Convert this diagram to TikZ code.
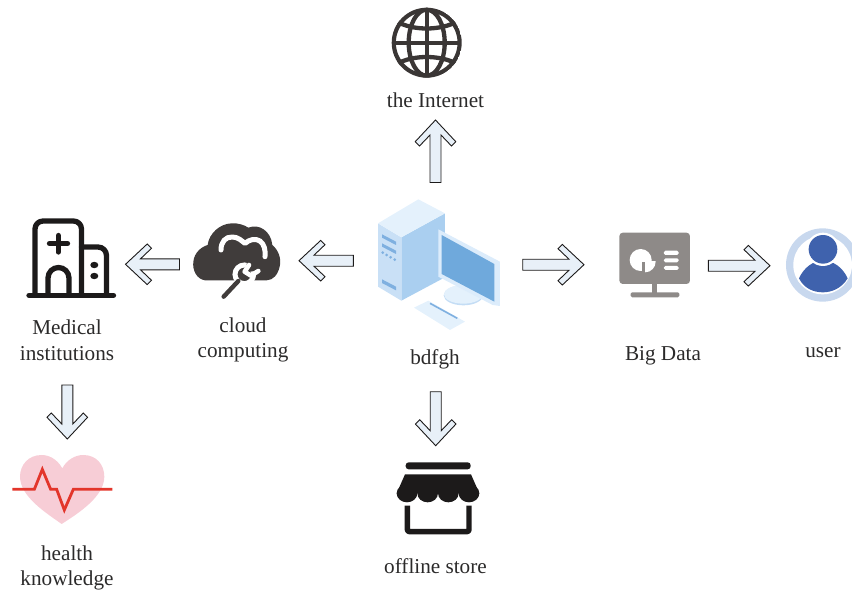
\documentclass[tikz,border=0pt]{standalone}
\usepackage{fontspec}
\setmainfont{Liberation Serif}
\usetikzlibrary{calc}
\definecolor{inkdark}{HTML}{3A3635}
\definecolor{inkblack}{HTML}{1C1A1A}
\definecolor{arrowfill}{HTML}{E8F0F8}
\definecolor{cloudgrey}{HTML}{403C3B}
\definecolor{screengrey}{HTML}{8E8A88}
\definecolor{pcfront}{HTML}{C9E0F6}
\definecolor{pcside}{HTML}{AACFF0}
\definecolor{pctop}{HTML}{E4F1FC}
\definecolor{pcframe}{HTML}{DCECFB}
\definecolor{pcscreen}{HTML}{6FA9DC}
\definecolor{pcbar}{HTML}{7FB0E0}
\definecolor{ringblue}{HTML}{C8D8EE}
\definecolor{userblue}{HTML}{3F62AD}
\definecolor{heartpink}{HTML}{F7CDD6}
\definecolor{pulsered}{HTML}{E3352B}
\definecolor{labeltext}{HTML}{2B2A2A}
\tikzset{
  blockarrow/.style={draw=inkblack,fill=arrowfill,line width=0.9pt,line join=miter},
  label text/.style={text=labeltext,align=center,inner sep=0pt,font=\fontsize{21.2}{25.5}\selectfont},
  globe line/.style={draw=inkdark,line width=4.3pt},
  hospital line/.style={draw=inkblack,line width=5.3pt,line cap=round,line join=round},
}
% block arrow with chevron head: from tail #1 to tip #2
\newcommand{\blockarrowdraw}[2]{%
  \draw[blockarrow]
    ($(#2)!0pt!(#1)$)
    -- ($(#2)!21.7pt!(#1)!20.3pt!90:(#2)$)
    -- ($(#2)!26pt!(#1)!16pt!90:(#2)$)
    -- ($(#2)!15pt!(#1)!5.5pt!90:(#2)$)
    -- ($(#1)!5.5pt!90:(#2)$)
    -- ($(#1)!5.5pt!-90:(#2)$)
    -- ($(#2)!15pt!(#1)!5.5pt!-90:(#2)$)
    -- ($(#2)!26pt!(#1)!16pt!-90:(#2)$)
    -- ($(#2)!21.7pt!(#1)!20.3pt!-90:(#2)$)
    -- cycle;}
\begin{document}
\begin{tikzpicture}[x=1pt,y=-1pt]
\useasboundingbox (0,0) rectangle (852,592);

% end points of the arrows
\coordinate (upTail) at (435.5,182.5);   \coordinate (upTip) at (435.5,120);
\coordinate (cloudTail) at (179.5,264.3);\coordinate (cloudTip) at (125.5,264.3);
\coordinate (pcTail) at (353.3,260.7);   \coordinate (pcTip) at (299,260.7);
\coordinate (dataTail) at (522.7,264.7); \coordinate (dataTip) at (584,264.7);
\coordinate (userTail) at (708.3,265.7); \coordinate (userTip) at (770,265.7);
\coordinate (healthTail) at (67.3,385);  \coordinate (healthTip) at (67.3,439);
\coordinate (storeTail) at (435.7,391.7);\coordinate (storeTip) at (435.7,445.7);

% globe
\begin{scope}
  \coordinate (globeC) at (426.7,42.7);
  \clip (globeC) circle (35);
  \draw[globe line] (globeC) circle (33);
  \draw[globe line] (globeC) ellipse (18 and 33);
  \draw[globe line] (393,42.7) -- (461,42.7);
  \draw[globe line] (426.7,9) -- (426.7,77);
  \draw[globe line] (396,21) .. controls (412,31) and (441,31) .. (458,21);
  \draw[globe line] (396,64.5) .. controls (412,54.5) and (441,54.5) .. (458,64.5);
\end{scope}

% hospital
\draw[hospital line] (35,295) -- (35,229) arc[start angle=180,end angle=90,x radius=8,y radius=-8] -- (73.5,221) arc[start angle=90,end angle=0,x radius=8,y radius=-8] -- (81.5,295);
\draw[hospital line] (81.5,247) -- (98,247) arc[start angle=90,end angle=0,x radius=8.5,y radius=-8.5] -- (106.5,295);
\draw[hospital line] (29,295.3) -- (113.5,295.3);
\draw[hospital line] (58.3,235.5) -- (58.3,252);
\draw[hospital line] (49.5,243.5) -- (67.5,243.5);
\draw[hospital line] (48,295) -- (48,278) arc[start angle=180,end angle=0,x radius=10.5,y radius=-10.5] -- (69,295);
\fill[inkblack] (94.3,265) ellipse (4 and 3.2);
\fill[inkblack] (94.3,276) ellipse (4 and 3.2);

% cloud
\begin{scope}[shift={(185,215)},x=0.3333pt,y=-0.3333pt]
  \fill[cloudgrey] (60,196)
    .. controls (34,192) and (22,165) .. (25,140)
    .. controls (28,112) and (50,95) .. (68,90)
    .. controls (72,55) and (105,26) .. (140,25)
    .. controls (160,24) and (178,30) .. (190,38)
    .. controls (222,25) and (258,48) .. (262,90)
    .. controls (280,105) and (290,130) .. (284,155)
    .. controls (278,180) and (265,195) .. (245,196)
    -- cycle;
  \draw[white,line width=5pt,line cap=round,line join=round] (108,105)
    .. controls (108,80) and (122,65) .. (142,66)
    .. controls (160,66) and (170,78) .. (180,85)
    .. controls (195,72) and (212,70) .. (225,78)
    .. controls (238,88) and (242,105) .. (240,125);
  \draw[white,line width=5pt,fill=cloudgrey] (178,178) circle (28);
  \fill[cloudgrey] (178,172) -- (190,130) -- (238,165) -- cycle;
  \draw[white,line width=4.6pt,line cap=round,line join=round] (192,150) -- (179,170) -- (198,182) -- (220,168);
  \draw[cloudgrey,line width=4.4pt,line cap=round] (160,198) -- (116,245);
\end{scope}

% computer
\begin{scope}[shift={(370,190)},x=0.3333pt,y=-0.3333pt]
  \fill[pcside] (94,142) -- (225,70) -- (225,262) -- (94,332) -- cycle;
  \fill[pcfront] (24,100) -- (94,142) -- (94,332) -- (24,290) -- cycle;
  \fill[pctop] (24,100) -- (145,28) -- (225,70) -- (94,142) -- cycle;
  \fill[pcbar] (36,133) -- (78,155) -- (78,165) -- (36,143) -- cycle;
  \fill[pcbar] (36,160) -- (78,182) -- (78,192) -- (36,170) -- cycle;
  \fill[pcbar] (36,268) -- (78,290) -- (78,301) -- (36,279) -- cycle;
  \foreach \px/\py in {38/188,50/195,62/202,74/209} \fill[pcbar] (\px,\py) circle (4.5);
  \fill[pcside!70!white] (280,316) ellipse (59 and 30);
  \fill[pctop] (280,313) ellipse (58 and 28);
  \fill[pcframe] (205,118) -- (390,215) -- (390,348) -- (368,345) -- (205,260) -- cycle;
  \fill[pcscreen] (215,135) -- (373,222) -- (373,335) -- (215,252) -- cycle;
  \fill[pctop] (132,353) -- (175,332) -- (285,395) -- (240,420) -- cycle;
  \draw[pcbar,line width=1.6pt] (180,340) -- (262,385);
\end{scope}

% big data screen
\begin{scope}[shift={(600,210)},x=0.3333pt,y=-0.3333pt]
  \fill[screengrey,rounded corners=3.5pt] (58,68) rectangle (270,222);
  \fill[screengrey] (157,220) rectangle (172,250);
  \fill[screengrey,rounded corners=1.5pt] (92,247) rectangle (238,262);
  \fill[white] (122,150) circle (33);
  \fill[screengrey] (127,155) rectangle (160,190);
  \begin{scope}
    \clip (135,155) rectangle (170,190);
    \fill[white] (135,155) circle (32);
  \end{scope}
  \fill[white,rounded corners=1.5pt] (192,122) rectangle (236,135);
  \fill[white,rounded corners=1.5pt] (192,145) rectangle (236,157);
  \fill[white,rounded corners=1.5pt] (192,168) rectangle (236,180);
\end{scope}

% user
\begin{scope}[shift={(600,210)},x=0.3333pt,y=-0.3333pt]
  \fill[ringblue] (668,165) circle (110);
  \fill[white] (668,165) circle (88);
  \fill[userblue] (597,205) .. controls (612,172) and (640,152) .. (669,152)
    .. controls (700,152) and (728,172) .. (743,205)
    .. controls (725,235) and (695,247) .. (669,247)
    .. controls (640,247) and (612,235) .. (597,205) -- cycle;
  \fill[white] (669,118) circle (50);
  \fill[userblue] (669,118) circle (43);
\end{scope}

% heart
\begin{scope}[shift={(0,380)},x=0.3333pt,y=-0.3333pt]
  \fill[heartpink] (187,265)
    .. controls (170,235) and (145,225) .. (125,225)
    .. controls (85,225) and (60,255) .. (60,290)
    .. controls (60,350) and (140,400) .. (185,432)
    .. controls (235,400) and (313,350) .. (313,290)
    .. controls (313,255) and (290,225) .. (250,225)
    .. controls (225,225) and (200,240) .. (187,265) -- cycle;
  \draw[pulsered,line width=2.8pt,line join=miter] (37,328) -- (103,328) -- (127,268) -- (152,328) -- (170,328) -- (193,390) -- (220,328) -- (337,328);
\end{scope}

% store
\begin{scope}[shift={(370,385)},x=0.3333pt,y=-0.3333pt]
  \fill[inkblack,rounded corners=3pt] (107,232) rectangle (302,253);
  \fill[inkblack] (105,268) -- (303,268) -- (328,325) -- (80,325) -- cycle;
  \foreach \sx in {111,173,235,297} \fill[inkblack] (\sx,325) ellipse (31 and 27);
  \draw[inkblack,line width=5.4pt,line join=round,rounded corners=2pt] (112,362) -- (112,440) -- (297,440) -- (297,362);
\end{scope}

% arrows
\blockarrowdraw{upTail}{upTip}
\blockarrowdraw{cloudTail}{cloudTip}
\blockarrowdraw{pcTail}{pcTip}
\blockarrowdraw{dataTail}{dataTip}
\blockarrowdraw{userTail}{userTip}
\blockarrowdraw{healthTail}{healthTip}
\blockarrowdraw{storeTail}{storeTip}

% labels
\node[label text] (internetLabel) at (435.5,100) {the Internet};
\node[label text] (medicalLabel) at (67,340) {Medical\\institutions};
\node[label text] (cloudLabel) at (243,340) {cloud\\computing};
\node[label text] (pcLabel) at (435,359) {bdfgh};
\node[label text] (dataLabel) at (663,355.5) {Big Data};
\node[label text] (userLabel) at (823,353) {user};
\node[label text] (healthLabel) at (67,568) {health\\knowledge};
\node[label text] (storeLabel) at (435.5,566) {offline store};
\end{tikzpicture}
\end{document}
